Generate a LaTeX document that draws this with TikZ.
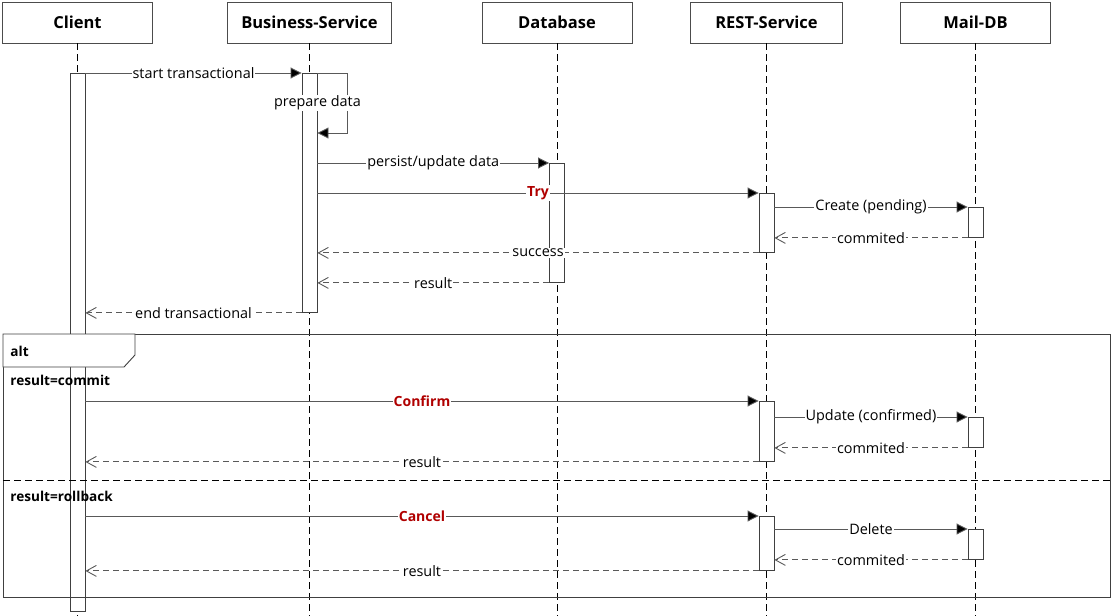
\documentclass[tikz,border=0pt]{standalone}
\usepackage{fontspec}
\setmainfont{Open Sans}
\usetikzlibrary{arrows.meta}
\definecolor{tryred}{RGB}{176,0,0}

\begin{document}
\begin{tikzpicture}[x=1pt, y=-1pt, line width=0.9pt,
        actor/.style={draw=black!70, minimum width=150pt, minimum height=41pt, font=\fontsize{16.5}{19}\selectfont\bfseries},
        bar/.style={draw=black!75, fill=white, minimum width=15pt, inner sep=0pt, anchor=north},
        life/.style={draw=black, dash pattern=on 7pt off 4pt},
        msg/.style={draw=black!65, -{Triangle[length=11pt,width=11pt,fill=black]}},
        ret/.style={draw=black!65, dash pattern=on 6pt off 4pt, -{Straight Barb[length=10pt,width=11pt]}},
        lbl/.style={fill=white, inner sep=1pt, font=\fontsize{14.4}{16}\selectfont},
        tx/.style={lbl, text=tryred, font=\fontsize{14}{16}\selectfont\bfseries},
        guard/.style={anchor=west, inner sep=0pt, font=\fontsize{13.6}{16}\selectfont\bfseries}
      ]
      \useasboundingbox (0,0) rectangle (1112,616);

      \node [actor] (client) at (77.5,22.5) {Client};
      \node [actor, minimum width=164pt] (bsvc) at (309.5,22.5) {Business-Service};
      \node [actor] (db) at (557,22.5) {Database};
      \node [actor, minimum width=152pt] (rest) at (766.5,22.5) {REST-Service};
      \node [actor] (maildb) at (975.5,22.5) {Mail-DB};

      \foreach \n in {client,bsvc,db,rest,maildb} {
        \coordinate (\n-end) at (\n.south |- 0,616);
        \draw[life] (\n.south) -- (\n-end);
      }

      % activations
      \node [bar, minimum height=538pt] (cb) at (client |- 0,73) {};
      \node [bar, minimum height=239pt] (bb) at (bsvc |- 0,73) {};
      \node [bar, minimum height=119pt] (dbb) at (db |- 0,163) {};
      \node [bar, minimum height=59pt] (rb1) at (rest |- 0,193) {};
      \node [bar, minimum height=30pt] (mb1) at (maildb |- 0,207) {};
      \node [bar, minimum height=60pt] (rb2) at (rest |- 0,401) {};
      \node [bar, minimum height=30pt] (mb2) at (maildb |- 0,417) {};
      \node [bar, minimum height=54pt] (rb3) at (rest |- 0,516) {};
      \node [bar, minimum height=30pt] (mb3) at (maildb |- 0,529) {};

      \draw[msg] (cb.north east) -- node[lbl] {start transactional} (bb.north west);
      \coordinate (prep-back) at (bb.east |- 0,133);
      \draw[msg] (bb.north east) -- ++(30,0) |- (prep-back);
      \node [lbl] (prep) at (bb.east |- 0,103) {prepare data};
      \draw[msg] (bb.east |- dbb.north) -- node[lbl] {persist/update data} (dbb.north west);
      \draw[msg] (bb.east |- rb1.north) -- node[tx] {Try} (rb1.north west);
      \draw[msg] (rb1.east |- mb1.north) -- node[lbl] {Create (pending)} (mb1.north west);
      \draw[ret] (mb1.south west) -- node[lbl] {commited} (rb1.east |- mb1.south);
      \draw[ret] (rb1.south west) -- node[lbl] {success} (bb.east |- rb1.south);
      \draw[ret] (dbb.south west) -- node[lbl] {result} (bb.east |- dbb.south);
      \draw[ret] (bb.south west) -- node[lbl] {end transactional} (cb.east |- bb.south);

      % alt fragment
      \draw[draw=black!75] (3,334) rectangle (1110,597);
      \draw[draw=black!75, fill=white] (3,334) -- (3,367) -- (124,367) -- (135,355) -- (135,334) -- cycle;
      \node [guard] (alt) at (10,351) {alt};
      \node [guard] (g-commit) at (10,380) {result=commit};
      \draw[draw=black, dash pattern=on 7pt off 4pt] (3,480) -- (1110,480);
      \node [guard] (g-rollback) at (10,496) {result=rollback};

      \draw[msg] (cb.east |- rb2.north) -- node[tx] {Confirm} (rb2.north west);
      \draw[msg] (rb2.east |- mb2.north) -- node[lbl] {Update (confirmed)} (mb2.north west);
      \draw[ret] (mb2.south west) -- node[lbl] {commited} (rb2.east |- mb2.south);
      \draw[ret] (rb2.south west) -- node[lbl] {result} (cb.east |- rb2.south);

      \draw[msg] (cb.east |- rb3.north) -- node[tx] {Cancel} (rb3.north west);
      \draw[msg] (rb3.east |- mb3.north) -- node[lbl] {Delete} (mb3.north west);
      \draw[ret] (mb3.south west) -- node[lbl] {commited} (rb3.east |- mb3.south);
      \draw[ret] (rb3.south west) -- node[lbl] {result} (cb.east |- rb3.south);
    \end{tikzpicture}
\end{document}
